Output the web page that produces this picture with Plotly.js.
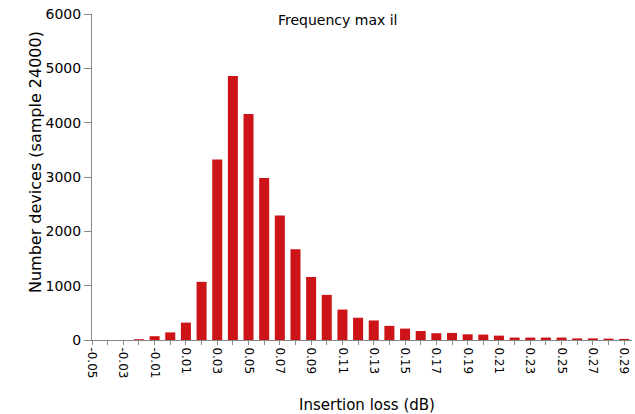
<!DOCTYPE html>
<html>
<head>
<meta charset="utf-8">
<script src="https://cdn.plot.ly/plotly-3.0.1.min.js"></script>
<style>html,body{margin:0;padding:0;background:#fff;}#chart{width:635px;height:414px;}</style>
</head>
<body>
<div id="chart"></div>
<script>
const lossBins = [-0.05,-0.04,-0.03,-0.02,-0.01,0.00,0.01,0.02,0.03,0.04,0.05,0.06,0.07,0.08,0.09,0.10,0.11,0.12,0.13,0.14,0.15,0.16,0.17,0.18,0.19,0.20,0.21,0.22,0.23,0.24,0.25,0.26,0.27,0.28,0.29];
const deviceCounts = [0,0,0,15,70,140,320,1070,3320,4860,4160,2980,2290,1670,1160,830,560,410,360,260,210,165,125,130,105,100,80,45,45,45,45,30,30,25,20];
const xTickVals = [-0.05,-0.03,-0.01,0.01,0.03,0.05,0.07,0.09,0.11,0.13,0.15,0.17,0.19,0.21,0.23,0.25,0.27,0.29];
const xTickText = ['-0.05','-0.03','-0.01','0.01','0.03','0.05','0.07','0.09','0.11','0.13','0.15','0.17','0.19','0.21','0.23','0.25','0.27','0.29'];
const chartTitle = 'Frequency max il';
const xTitle = 'Insertion loss (dB)';
const yTitle = 'Number devices (sample 24000)';

const font = 'DejaVu Sans, Verdana, sans-serif';
const W = 635, H = 414, L = 92, R = 3, T = 14, B = 74;
const pw = W - L - R, ph = H - T - B;
Plotly.newPlot('chart', [{
  type: 'bar',
  x: lossBins,
  y: deviceCounts,
  width: 0.0064,
  marker: {color: '#cc1418', line: {width: 0}},
  hoverinfo: 'x+y'
}], {
  width: W, height: H,
  margin: {l: L, r: R, t: T, b: B},
  paper_bgcolor: '#fff', plot_bgcolor: '#fff',
  showlegend: false,
  font: {family: font, color: '#000'},
  annotations: [{
    text: chartTitle, xref: 'paper', yref: 'paper',
    x: (338 - L) / pw, y: (H - B - 20) / ph,
    xanchor: 'center', yanchor: 'middle', showarrow: false,
    font: {family: font, size: 14, color: '#000'}
  }, {
    text: xTitle, xref: 'paper', yref: 'paper',
    x: (367 - L) / pw, y: (H - B - 405) / ph,
    xanchor: 'center', yanchor: 'middle', showarrow: false,
    font: {family: font, size: 15, color: '#000'}
  }, {
    text: yTitle, xref: 'paper', yref: 'paper', textangle: -90,
    x: (35 - L) / pw, y: (H - B - 162) / ph,
    xanchor: 'center', yanchor: 'middle', showarrow: false,
    font: {family: font, size: 16, color: '#000'}
  }],
  xaxis: {
    range: [-0.05, 0.295],
    tickmode: 'array', tickvals: xTickVals, ticktext: xTickText,
    tickangle: 90,
    ticks: 'outside', ticklen: 4, tickcolor: '#888',
    minor: {dtick: 0.01, tick0: -0.05, ticks: 'outside', ticklen: 4, tickcolor: '#888', showgrid: false},
    showline: true, linecolor: '#888', linewidth: 1,
    showgrid: false, zeroline: false,
    tickfont: {family: font, size: 12, color: '#000'}
  },
  yaxis: {
    range: [0, 6000], dtick: 1000,
    ticks: 'outside', ticklen: 7, tickcolor: '#888',
    showline: true, linecolor: '#888', linewidth: 1,
    showgrid: false, zeroline: false,
    tickfont: {family: font, size: 14, color: '#000'}
  },
  bargap: 0.35
}, {displayModeBar: false, staticPlot: true});
</script>
</body>
</html>
